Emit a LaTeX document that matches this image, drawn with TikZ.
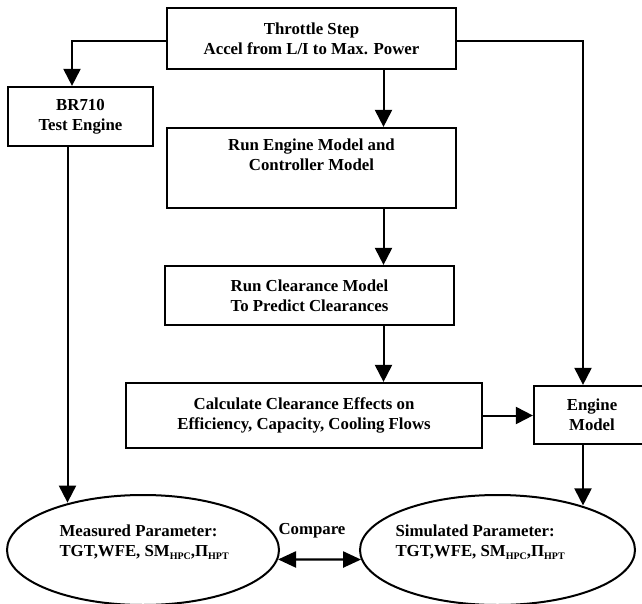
\documentclass[tikz,border=0pt]{standalone}
\usepackage{fontspec}
\setmainfont{Liberation Serif}
\usetikzlibrary{arrows.meta,shapes.geometric}

% small subscript set slightly below the baseline
\newcommand{\lowsub}[1]{\raisebox{-2.5pt}{\fontsize{10}{10}\selectfont #1}}

\begin{document}
\begin{tikzpicture}[
    x=1pt, y=-1pt,
    every node/.style={font=\fontsize{16.8}{20}\selectfont\bfseries},
    stepbox/.style={draw, line width=2.2pt, rectangle, inner sep=0pt, align=center},
    oval/.style={draw, line width=2pt, ellipse, inner sep=0pt},
    flow/.style={line width=2pt, -{Triangle[length=17pt,width=17pt]}},
    both/.style={line width=2.4pt, {Triangle[length=18pt,width=16pt]}-{Triangle[length=18pt,width=16pt]}}
  ]
  \useasboundingbox (0,0) rectangle (642,604);

  % process boxes
  \node[stepbox, minimum width=289, minimum height=61] (thr) at (311.5,38.5)
    {Throttle Step\\Accel from L/I to Max. Power};
  \node[stepbox, minimum width=145, minimum height=59] (br) at (80.5,116.5)
    {BR710\\Test Engine};
  \node[stepbox, minimum width=289, minimum height=80] (run) at (311.5,168)
    {Run Engine Model and\\Controller Model\\\strut};
  \node[stepbox, minimum width=289, minimum height=59] (clr) at (309.5,295.5)
    {Run Clearance Model\\To Predict Clearances};
  \node[stepbox, minimum width=356, minimum height=65] (calc) at (304,415.5)
    {Calculate Clearance Effects on\\Efficiency, Capacity, Cooling Flows};
  \node[stepbox, minimum width=116, minimum height=58] (eng) at (592,415)
    {Engine\\Model};

  % parameter ovals
  \node[oval, minimum width=272, minimum height=110] (meas) at (143,550) {};
  \node[oval, minimum width=275, minimum height=110] (sim) at (497.5,550) {};
  \node[anchor=west, align=left] (meastxt) at (56,542)
    {Measured Parameter:\\TGT,WFE, SM\lowsub{HPC},Π\lowsub{HPT}};
  \node[anchor=west, align=left] (simtxt) at (392,542)
    {Simulated Parameter:\\TGT,WFE, SM\lowsub{HPC},Π\lowsub{HPT}};
  \node (cmp) at (312,531) {Compare};

  % connectors
  \draw[flow] ([yshift=-2.5pt]thr.west) -| ([xshift=-8.5pt]br.north);
  \draw[flow] ([yshift=-2.5pt]thr.east) -| ([xshift=-9pt]eng.north);
  \draw[flow] ([xshift=72pt]thr.south) coordinate (a1) -- (a1 |- run.north);
  \draw[flow] ([xshift=72pt]run.south) coordinate (a2) -- (a2 |- clr.north);
  \draw[flow] ([xshift=74pt]clr.south) coordinate (a3) -- (a3 |- calc.north);
  \draw[flow] (calc.east) -- (calc.east -| eng.west);
  \draw[flow] ([xshift=-13pt]br.south) coordinate (a4) -- (a4 |- meas.147.4);
  \draw[flow] ([xshift=-9pt]eng.south) coordinate (a5) -- (a5 |- sim.28);
  \draw[both] (meas.-4) -- (sim.184);
\end{tikzpicture}
\end{document}
